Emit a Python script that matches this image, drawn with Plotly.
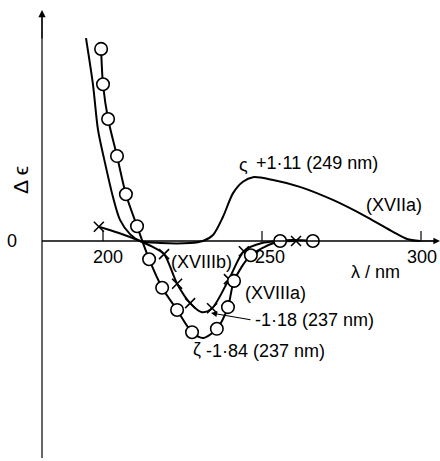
import plotly.graph_objects as go

# ---- data (wavelength nm, delta epsilon) ----
xvii_a_wl = [194.65, 196.86, 198.43, 200.63, 203.14, 205.35, 208.49, 211.64, 217.92, 227.36,
             231.4, 234.6, 237.7, 240.9, 244.0, 247.2, 253.5, 261.9, 272.3, 283.0, 291.2, 295.6, 299.7]
xvii_a_de = [3.56, 2.74, 1.95, 1.37, 0.77, 0.37, 0.12, 0.0, -0.035, -0.035,
             0.0, 0.105, 0.42, 0.84, 1.04, 1.12, 1.07, 0.95, 0.72, 0.42, 0.16, 0.035, 0.0]

xviii_a_line_wl = [199.4, 200.0, 201.6, 204.4, 207.2, 210.7, 214.5, 218.6, 223.3, 228.0, 231.6,
                   235.8, 239.3, 241.2, 246.5, 255.7, 266.0]
xviii_a_line_de = [3.37, 2.75, 2.14, 1.49, 0.82, 0.26, -0.32, -0.82, -1.21, -1.60, -1.70,
                   -1.54, -1.16, -0.70, -0.25, 0.0, 0.0]
xviii_a_mark_wl = [199.4, 200.0, 201.6, 204.4, 207.2, 210.7, 214.5, 218.6, 223.3, 228.0,
                   235.8, 239.3, 241.2, 246.5, 255.7, 266.0]
xviii_a_mark_de = [3.37, 2.75, 2.14, 1.49, 0.82, 0.26, -0.32, -0.82, -1.21, -1.60,
                   -1.54, -1.16, -0.70, -0.25, 0.0, 0.0]

xviii_b_line_wl = [198.7, 205.0, 211.6, 215.5, 219.2, 223.3, 227.4, 231.1, 234.3, 239.6, 244.3, 250.0, 260.7]
xviii_b_line_de = [0.25, 0.14, 0.0, -0.10, -0.23, -0.75, -1.09, -1.25, -1.18, -0.67, -0.18, -0.035, 0.0]
xviii_b_mark_wl = [198.7, 219.2, 223.3, 227.4, 234.3, 239.6, 244.3, 260.7]
xviii_b_mark_de = [0.25, -0.23, -0.75, -1.09, -1.18, -0.67, -0.18, 0.0]

x_ticks = [200, 250, 300]
x_tick_labels = ["200", "250", "300"]

# ---- layout helpers (pixel mapping) ----
PX0, SX = 103.0, 3.18   # px of 200 nm, px per nm
PY0, SY = 241.0, 57.0   # px of zero, px per unit
W, H = 440, 461


def wl(px):
    return 200 + (px - PX0) / SX


def de(py):
    return (PY0 - py) / SY


FONT = dict(family="Liberation Sans, Arial, sans-serif", size=18, color="black")

fig = go.Figure()

fig.add_trace(go.Scatter(x=xvii_a_wl, y=xvii_a_de, mode="lines",
                         line=dict(color="black", width=2, shape="spline", smoothing=0.8),
                         showlegend=False, hoverinfo="skip"))
fig.add_trace(go.Scatter(x=xviii_b_line_wl, y=xviii_b_line_de, mode="lines",
                         line=dict(color="black", width=2, shape="spline", smoothing=0.8),
                         showlegend=False, hoverinfo="skip"))
fig.add_trace(go.Scatter(x=xviii_b_mark_wl, y=xviii_b_mark_de, mode="markers",
                         marker=dict(symbol="x-thin-open", size=10, color="black",
                                     line=dict(color="black", width=1.6)),
                         showlegend=False, hoverinfo="skip"))
fig.add_trace(go.Scatter(x=xviii_a_line_wl, y=xviii_a_line_de, mode="lines",
                         line=dict(color="black", width=2, shape="spline", smoothing=0.8),
                         showlegend=False, hoverinfo="skip"))
fig.add_trace(go.Scatter(x=xviii_a_mark_wl, y=xviii_a_mark_de, mode="markers",
                         marker=dict(symbol="circle", size=12.5, color="white",
                                     line=dict(color="black", width=1.6)),
                         showlegend=False, hoverinfo="skip"))

shapes = []
# axes lines
shapes.append(dict(type="line", xref="x", yref="y", x0=wl(42), x1=wl(42), y0=de(458), y1=de(14),
                   line=dict(color="black", width=1.2)))
shapes.append(dict(type="line", xref="x", yref="y", x0=wl(42), x1=wl(436), y0=0, y1=0,
                   line=dict(color="black", width=1.5)))
for t in x_ticks:
    shapes.append(dict(type="line", xref="x", yref="y", x0=t, x1=t, y0=0, y1=de(231),
                       line=dict(color="black", width=1.2)))
fig.update_layout(shapes=shapes)

ann = []
# arrowheads on axes
ann.append(dict(x=wl(42), y=de(10), ax=wl(42), ay=de(40), xref="x", yref="y", axref="x", ayref="y",
                showarrow=True, arrowhead=2, arrowsize=1.2, arrowwidth=1.2, arrowcolor="black", text=""))
ann.append(dict(x=wl(440), y=0, ax=wl(410), ay=0, xref="x", yref="y", axref="x", ayref="y",
                showarrow=True, arrowhead=2, arrowsize=1.1, arrowwidth=1.2, arrowcolor="black", text=""))
# tick labels (label centres sit slightly right of the ticks, as in the original)
label_shift_nm = [1.6, 2.5, 0.3]
for t, lab, s in zip(x_ticks, x_tick_labels, label_shift_nm):
    ann.append(dict(x=t + s, y=de(257), text=lab, showarrow=False, font=FONT,
                    xanchor="center", yanchor="middle"))
ann.append(dict(x=wl(12), y=0, text="0", showarrow=False, font=FONT, xanchor="center", yanchor="middle"))
ann.append(dict(x=wl(20), y=de(180), text="Δ ϵ", showarrow=False,
                font=dict(family=FONT["family"], size=21, color="black"), textangle=-90,
                xanchor="center", yanchor="middle"))
ann.append(dict(x=wl(375), y=de(272), text="λ / nm", showarrow=False, font=FONT,
                xanchor="center", yanchor="middle"))
ann.append(dict(x=wl(394), y=de(205), text="(XVIIa)", showarrow=False, font=FONT,
                xanchor="center", yanchor="middle"))
ann.append(dict(x=wl(201), y=de(262), text="(XVIIIb)", showarrow=False, font=FONT,
                xanchor="center", yanchor="middle"))
ann.append(dict(x=wl(275), y=de(293), text="(XVIIIa)", showarrow=False, font=FONT,
                xanchor="center", yanchor="middle"))
ann.append(dict(x=wl(243), y=de(165), text="ς", showarrow=False, font=FONT,
                xanchor="center", yanchor="middle"))
ann.append(dict(x=wl(254), y=de(163), text="+1·11 (249 nm)", showarrow=False, font=FONT,
                xanchor="left", yanchor="middle"))
ann.append(dict(x=wl(253), y=de(320), text="-1·18 (237 nm)", showarrow=False, font=FONT,
                xanchor="left", yanchor="middle"))
ann.append(dict(x=wl(211), y=de(313), ax=wl(252), ay=de(320), xref="x", yref="y", axref="x", ayref="y",
                showarrow=True, arrowhead=2, arrowsize=1, arrowwidth=1.2, arrowcolor="black", text=""))
ann.append(dict(x=wl(197), y=de(349), text="ζ", showarrow=False, font=FONT,
                xanchor="center", yanchor="middle"))
ann.append(dict(x=wl(204), y=de(351), text="-1·84 (237 nm)", showarrow=False, font=FONT,
                xanchor="left", yanchor="middle"))
for a in ann:
    a.setdefault("xref", "x")
    a.setdefault("yref", "y")
fig.update_layout(annotations=ann)

fig.update_layout(
    width=W, height=H,
    margin=dict(l=0, r=0, t=0, b=0),
    paper_bgcolor="white", plot_bgcolor="white",
    xaxis=dict(range=[wl(0), wl(W)], visible=False, fixedrange=True),
    yaxis=dict(range=[de(H), de(0)], visible=False, fixedrange=True),
)

fig.write_html("out.html", config={"displayModeBar": False},
               post_script="document.body.style.margin='0';document.body.style.padding='0';")
